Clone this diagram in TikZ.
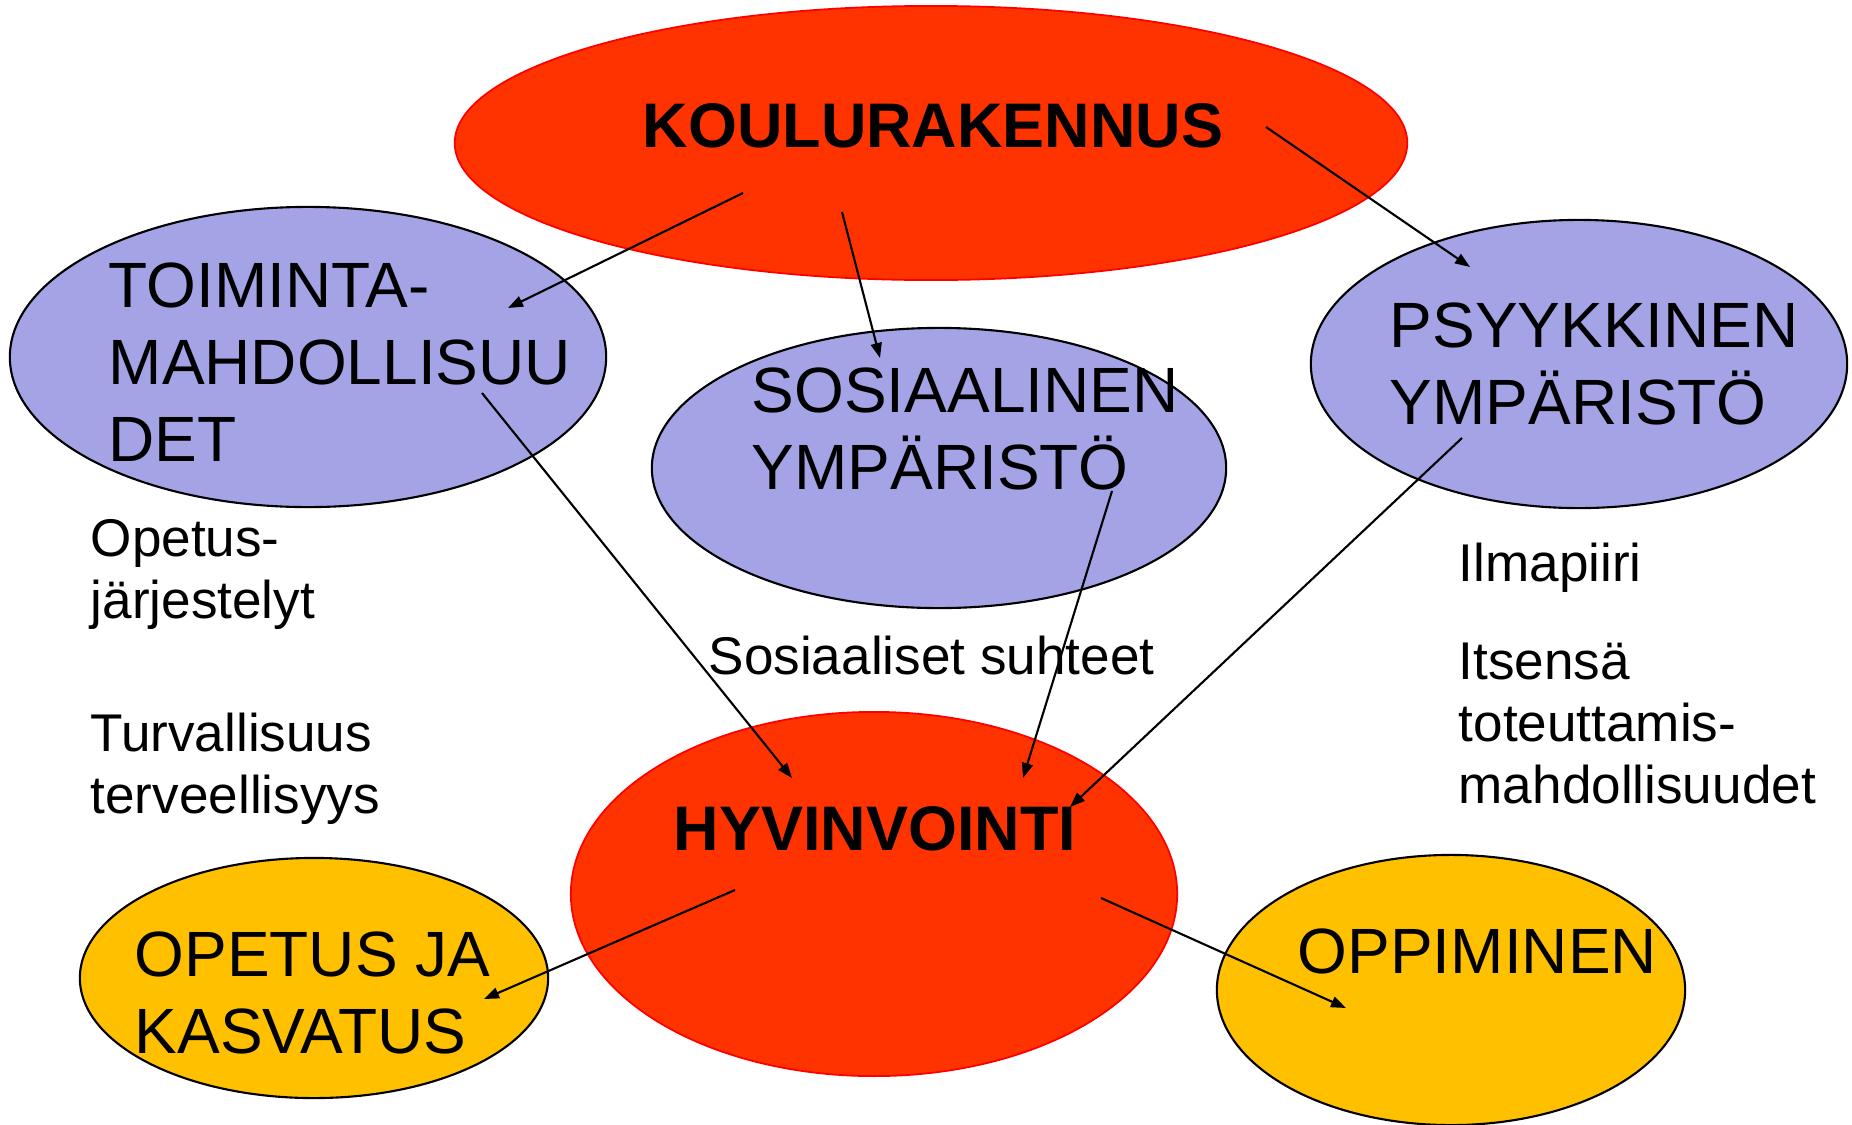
\documentclass[tikz,border=0pt]{standalone}
\usepackage{fontspec}
\setmainfont{Liberation Sans}
\usetikzlibrary{shapes.geometric,arrows.meta}
\definecolor{koulured}{HTML}{FF3300}
\definecolor{ympblue}{HTML}{A3A3E6}
\definecolor{tulosorange}{HTML}{FFC000}
\begin{document}
\begin{tikzpicture}[x=0.01cm,y=-0.01cm]
    \tikzstyle{arrow}=[line width=0.6pt,-{Triangle[length=0.15cm,width=0.11cm]}]
    \tikzstyle{redball}=[ellipse,fill=koulured,draw=red,line width=0.5pt,inner sep=0]
    \tikzstyle{blueball}=[ellipse,fill=ympblue,draw=black,line width=0.6pt,inner sep=0]
    \tikzstyle{yellowball}=[ellipse,fill=tulosorange,draw=black,line width=0.6pt,inner sep=0]
    \tikzstyle{big}=[inner sep=0,anchor=north west,align=left,font=\fontsize{18.2}{21.9}\selectfont]
    \tikzstyle{bigbold}=[inner sep=0,anchor=north,font=\fontsize{17.9}{21.9}\selectfont\bfseries]
    \tikzstyle{small}=[inner sep=0,anchor=north west,align=left,font=\fontsize{15.1}{17.6}\selectfont]
    \useasboundingbox (0,0) rectangle (1852,1124);
    % ellipses
    \node[redball,minimum width=9.52cm,minimum height=2.74cm] (koulu) at (931,143) {};
    \node[blueball,minimum width=5.96cm,minimum height=3.00cm] (toim) at (308,357) {};
    \node[blueball,minimum width=5.74cm,minimum height=2.80cm] (sos) at (939,468) {};
    \node[blueball,minimum width=5.36cm,minimum height=2.88cm] (psyk) at (1579,364) {};
    \node[redball,minimum width=6.06cm,minimum height=3.64cm] (hyv) at (874,894) {};
    \node[yellowball,minimum width=4.68cm,minimum height=2.40cm] (opet) at (314,978) {};
    \node[yellowball,minimum width=4.68cm,minimum height=2.70cm] (oppi) at (1451,990) {};
    % texts in the ellipses
    \node[bigbold] (koulu-t) at (933,103) {KOULURAKENNUS};
    \node[big] (toim-t) at (108,262) {TOIMINTA-\\MAHDOLLISUU\\DET};
    \node[big] (sos-t) at (751,367) {SOSIAALINEN\\YMPÄRISTÖ};
    \node[big] (psyk-t) at (1389,302) {PSYYKKINEN\\YMPÄRISTÖ};
    \node[bigbold] (hyv-t) at (875,806) {HYVINVOINTI};
    \node[big] (opet-t) at (134,931) {OPETUS JA\\KASVATUS};
    \node[big] (oppi-t) at (1297,928) {OPPIMINEN};
    % free texts
    \node[small] (jarj) at (90,519) {Opetus-\\järjestelyt};
    \node[small] (turva) at (90,712) {Turvallisuus\\terveellisyys};
    \node[small] (suhteet) at (708,635) {Sosiaaliset suhteet};
    \node[small] (ilma) at (1458,542) {Ilmapiiri};
    \node[small] (itse) at (1458,642) {Itsensä\\toteuttamis-\\mahdollisuudet};
    % arrow ends
    \coordinate (k1) at (743,193);
    \coordinate (k2) at (842,212);
    \coordinate (k3) at (1266,127);
    \coordinate (t-in) at (508,308);
    \coordinate (s-in) at (880,358);
    \coordinate (p-in) at (1470,267);
    \coordinate (t-out) at (482,393);
    \coordinate (s-out) at (1112,491);
    \coordinate (p-out) at (1462,438);
    \coordinate (h1) at (792,778);
    \coordinate (h2) at (1023,778);
    \coordinate (h3) at (1070,807);
    \coordinate (h-l) at (735,890);
    \coordinate (h-r) at (1101,898);
    \coordinate (o-in) at (484,999);
    \coordinate (op-in) at (1346,1008);
    % arrows
    \draw[arrow] (k1) -- (t-in);
    \draw[arrow] (k2) -- (s-in);
    \draw[arrow] (k3) -- (p-in);
    \draw[arrow] (t-out) -- (h1);
    \draw[arrow] (s-out) -- (h2);
    \draw[arrow] (p-out) -- (h3);
    \draw[arrow] (h-l) -- (o-in);
    \draw[arrow] (h-r) -- (op-in);
\end{tikzpicture}
\end{document}
